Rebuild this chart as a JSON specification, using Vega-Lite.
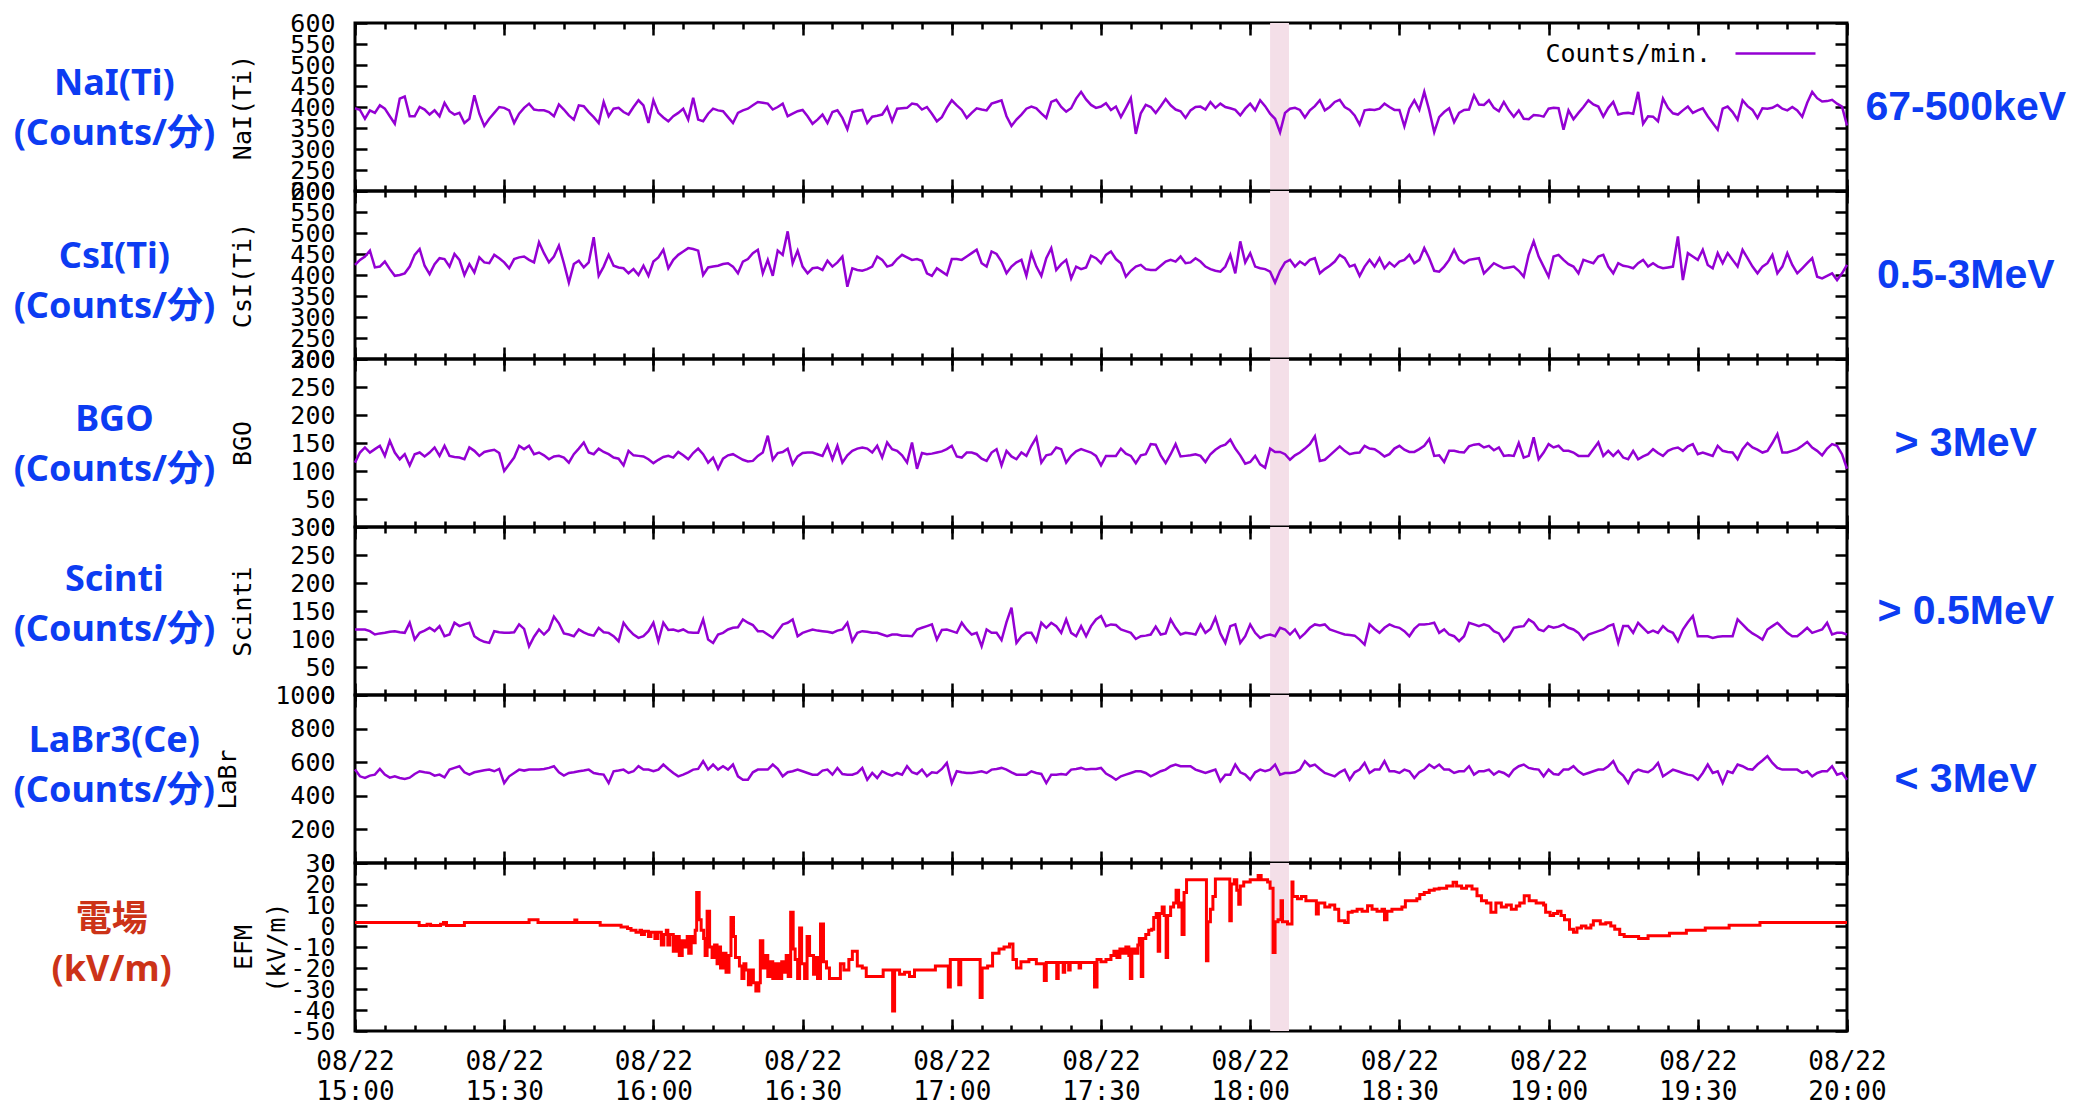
{
  "$schema": "https://vega.github.io/schema/vega-lite/v6.json",
  "background": "white",
  "padding": {"left": 12, "top": 9, "right": 5, "bottom": 2},
  "config": {
    "view": {"stroke": "black", "strokeWidth": 3},
    "axis": {"domain": false, "grid": false, "labelFont": "DejaVu Sans Mono", "labelFontSize": 25, "labelColor": "black", "titleFont": "DejaVu Sans Mono", "titleFontSize": 25, "titleFontWeight": "normal", "titleColor": "black", "tickColor": "black", "tickWidth": 2.5, "labelOverlap": false, "labelFlush": false, "labelBound": false},
    "title": {"orient": "left", "angle": 0, "align": "center", "baseline": "middle", "anchor": "middle", "frame": "group", "font": "Noto Sans, Noto Sans CJK JP", "fontSize": 36, "fontWeight": "bold", "color": "#0c3cf2", "lineHeight": 50, "dy": -40}
  },
  "datasets": {
    "band": [{"start": 184.0, "end": 187.8}],
    "counts": [
{"min":0,"nai":397,"csi":424,"bgo":115,"sci":117,"lab":556},
{"min":1,"nai":393,"csi":436,"bgo":133,"sci":117,"lab":516},
{"min":2,"nai":372,"csi":444,"bgo":142,"sci":117,"lab":506},
{"min":3,"nai":392,"csi":458,"bgo":133,"sci":114,"lab":520},
{"min":4,"nai":386,"csi":418,"bgo":139,"sci":108,"lab":526},
{"min":5,"nai":404,"csi":420,"bgo":145,"sci":110,"lab":560},
{"min":6,"nai":396,"csi":432,"bgo":127,"sci":111,"lab":526},
{"min":7,"nai":378,"csi":414,"bgo":154,"sci":113,"lab":508},
{"min":8,"nai":360,"csi":398,"bgo":133,"sci":114,"lab":516},
{"min":9,"nai":420,"csi":400,"bgo":121,"sci":112,"lab":506},
{"min":10,"nai":425,"csi":404,"bgo":130,"sci":111,"lab":500},
{"min":11,"nai":378,"csi":420,"bgo":110,"sci":129,"lab":508},
{"min":12,"nai":378,"csi":448,"bgo":130,"sci":99,"lab":530},
{"min":13,"nai":400,"csi":462,"bgo":133,"sci":111,"lab":546},
{"min":14,"nai":394,"csi":422,"bgo":126,"sci":115,"lab":540},
{"min":15,"nai":382,"csi":402,"bgo":133,"sci":120,"lab":536},
{"min":16,"nai":392,"csi":426,"bgo":142,"sci":114,"lab":520},
{"min":17,"nai":378,"csi":440,"bgo":127,"sci":123,"lab":526},
{"min":18,"nai":410,"csi":438,"bgo":145,"sci":105,"lab":510},
{"min":19,"nai":390,"csi":420,"bgo":127,"sci":108,"lab":556},
{"min":20,"nai":382,"csi":450,"bgo":125,"sci":129,"lab":566},
{"min":21,"nai":386,"csi":436,"bgo":124,"sci":123,"lab":576},
{"min":22,"nai":362,"csi":400,"bgo":121,"sci":126,"lab":540},
{"min":23,"nai":372,"csi":426,"bgo":142,"sci":129,"lab":526},
{"min":24,"nai":428,"csi":406,"bgo":136,"sci":105,"lab":540},
{"min":25,"nai":384,"csi":442,"bgo":127,"sci":99,"lab":546},
{"min":26,"nai":355,"csi":430,"bgo":134,"sci":95,"lab":552},
{"min":27,"nai":372,"csi":428,"bgo":136,"sci":93,"lab":556},
{"min":28,"nai":386,"csi":448,"bgo":138,"sci":114,"lab":546},
{"min":29,"nai":400,"csi":440,"bgo":132,"sci":112,"lab":560},
{"min":30,"nai":398,"csi":430,"bgo":100,"sci":111,"lab":476},
{"min":31,"nai":392,"csi":416,"bgo":112,"sci":111,"lab":516},
{"min":32,"nai":362,"csi":438,"bgo":124,"sci":112,"lab":536},
{"min":33,"nai":384,"csi":442,"bgo":145,"sci":126,"lab":556},
{"min":34,"nai":398,"csi":444,"bgo":139,"sci":118,"lab":550},
{"min":35,"nai":408,"csi":436,"bgo":145,"sci":87,"lab":556},
{"min":36,"nai":394,"csi":430,"bgo":130,"sci":104,"lab":556},
{"min":37,"nai":392,"csi":478,"bgo":133,"sci":117,"lab":556},
{"min":38,"nai":392,"csi":452,"bgo":128,"sci":108,"lab":560},
{"min":39,"nai":388,"csi":430,"bgo":121,"sci":117,"lab":566},
{"min":40,"nai":378,"csi":444,"bgo":126,"sci":140,"lab":576},
{"min":41,"nai":406,"csi":470,"bgo":127,"sci":128,"lab":540},
{"min":42,"nai":394,"csi":428,"bgo":124,"sci":110,"lab":520},
{"min":43,"nai":380,"csi":382,"bgo":115,"sci":108,"lab":536},
{"min":44,"nai":370,"csi":426,"bgo":130,"sci":105,"lab":540},
{"min":45,"nai":404,"csi":434,"bgo":140,"sci":117,"lab":546},
{"min":46,"nai":402,"csi":418,"bgo":151,"sci":112,"lab":550},
{"min":47,"nai":388,"csi":430,"bgo":133,"sci":108,"lab":556},
{"min":48,"nai":376,"csi":490,"bgo":130,"sci":106,"lab":536},
{"min":49,"nai":362,"csi":398,"bgo":140,"sci":120,"lab":530},
{"min":50,"nai":412,"csi":420,"bgo":134,"sci":112,"lab":526},
{"min":51,"nai":378,"csi":448,"bgo":130,"sci":111,"lab":476},
{"min":52,"nai":396,"csi":422,"bgo":124,"sci":105,"lab":546},
{"min":53,"nai":398,"csi":418,"bgo":122,"sci":96,"lab":550},
{"min":54,"nai":388,"csi":416,"bgo":110,"sci":129,"lab":556},
{"min":55,"nai":382,"csi":404,"bgo":136,"sci":117,"lab":536},
{"min":56,"nai":400,"csi":414,"bgo":128,"sci":108,"lab":546},
{"min":57,"nai":416,"csi":400,"bgo":127,"sci":102,"lab":576},
{"min":58,"nai":404,"csi":422,"bgo":126,"sci":105,"lab":556},
{"min":59,"nai":362,"csi":398,"bgo":121,"sci":114,"lab":556},
{"min":60,"nai":416,"csi":432,"bgo":114,"sci":129,"lab":546},
{"min":61,"nai":386,"csi":442,"bgo":120,"sci":96,"lab":556},
{"min":62,"nai":375,"csi":460,"bgo":125,"sci":129,"lab":586},
{"min":63,"nai":366,"csi":416,"bgo":127,"sci":116,"lab":560},
{"min":64,"nai":378,"csi":436,"bgo":124,"sci":117,"lab":536},
{"min":65,"nai":386,"csi":448,"bgo":134,"sci":114,"lab":516},
{"min":66,"nai":396,"csi":456,"bgo":128,"sci":117,"lab":526},
{"min":67,"nai":370,"csi":464,"bgo":121,"sci":112,"lab":540},
{"min":68,"nai":422,"csi":462,"bgo":132,"sci":111,"lab":556},
{"min":69,"nai":370,"csi":458,"bgo":140,"sci":111,"lab":560},
{"min":70,"nai":366,"csi":400,"bgo":130,"sci":135,"lab":606},
{"min":71,"nai":384,"csi":418,"bgo":115,"sci":99,"lab":556},
{"min":72,"nai":396,"csi":420,"bgo":124,"sci":93,"lab":586},
{"min":73,"nai":392,"csi":422,"bgo":104,"sci":108,"lab":556},
{"min":74,"nai":390,"csi":426,"bgo":122,"sci":111,"lab":576},
{"min":75,"nai":376,"csi":428,"bgo":128,"sci":117,"lab":556},
{"min":76,"nai":362,"csi":420,"bgo":130,"sci":120,"lab":586},
{"min":77,"nai":386,"csi":404,"bgo":125,"sci":121,"lab":516},
{"min":78,"nai":392,"csi":432,"bgo":120,"sci":135,"lab":496},
{"min":79,"nai":396,"csi":438,"bgo":117,"sci":129,"lab":496},
{"min":80,"nai":404,"csi":452,"bgo":118,"sci":125,"lab":540},
{"min":81,"nai":412,"csi":460,"bgo":127,"sci":114,"lab":556},
{"min":82,"nai":410,"csi":404,"bgo":133,"sci":114,"lab":556},
{"min":83,"nai":408,"csi":436,"bgo":163,"sci":108,"lab":556},
{"min":84,"nai":394,"csi":398,"bgo":120,"sci":102,"lab":586},
{"min":85,"nai":400,"csi":458,"bgo":132,"sci":114,"lab":560},
{"min":86,"nai":408,"csi":448,"bgo":134,"sci":126,"lab":516},
{"min":87,"nai":378,"csi":504,"bgo":140,"sci":129,"lab":540},
{"min":88,"nai":384,"csi":428,"bgo":112,"sci":135,"lab":546},
{"min":89,"nai":390,"csi":458,"bgo":126,"sci":105,"lab":556},
{"min":90,"nai":393,"csi":420,"bgo":132,"sci":111,"lab":546},
{"min":91,"nai":378,"csi":404,"bgo":133,"sci":114,"lab":536},
{"min":92,"nai":360,"csi":416,"bgo":133,"sci":117,"lab":526},
{"min":93,"nai":370,"csi":418,"bgo":130,"sci":115,"lab":526},
{"min":94,"nai":382,"csi":412,"bgo":127,"sci":114,"lab":550},
{"min":95,"nai":362,"csi":434,"bgo":146,"sci":113,"lab":556},
{"min":96,"nai":388,"csi":420,"bgo":121,"sci":111,"lab":526},
{"min":97,"nai":392,"csi":430,"bgo":145,"sci":115,"lab":566},
{"min":98,"nai":374,"csi":444,"bgo":115,"sci":117,"lab":530},
{"min":99,"nai":347,"csi":372,"bgo":128,"sci":129,"lab":526},
{"min":100,"nai":388,"csi":416,"bgo":136,"sci":96,"lab":526},
{"min":101,"nai":391,"csi":412,"bgo":140,"sci":111,"lab":536},
{"min":102,"nai":393,"csi":410,"bgo":142,"sci":114,"lab":566},
{"min":103,"nai":362,"csi":414,"bgo":140,"sci":113,"lab":496},
{"min":104,"nai":377,"csi":420,"bgo":133,"sci":111,"lab":536},
{"min":105,"nai":379,"csi":444,"bgo":145,"sci":111,"lab":506},
{"min":106,"nai":382,"csi":436,"bgo":124,"sci":108,"lab":546},
{"min":107,"nai":400,"csi":420,"bgo":151,"sci":105,"lab":530},
{"min":108,"nai":366,"csi":424,"bgo":139,"sci":108,"lab":520},
{"min":109,"nai":396,"csi":438,"bgo":136,"sci":108,"lab":536},
{"min":110,"nai":397,"csi":448,"bgo":128,"sci":106,"lab":526},
{"min":111,"nai":398,"csi":442,"bgo":115,"sci":106,"lab":576},
{"min":112,"nai":408,"csi":436,"bgo":151,"sci":105,"lab":540},
{"min":113,"nai":406,"csi":438,"bgo":104,"sci":117,"lab":530},
{"min":114,"nai":394,"csi":434,"bgo":132,"sci":120,"lab":556},
{"min":115,"nai":400,"csi":404,"bgo":130,"sci":123,"lab":516},
{"min":116,"nai":384,"csi":398,"bgo":131,"sci":126,"lab":540},
{"min":117,"nai":366,"csi":416,"bgo":133,"sci":99,"lab":536},
{"min":118,"nai":376,"csi":408,"bgo":135,"sci":116,"lab":560},
{"min":119,"nai":398,"csi":400,"bgo":139,"sci":117,"lab":596},
{"min":120,"nai":416,"csi":438,"bgo":145,"sci":114,"lab":476},
{"min":121,"nai":404,"csi":438,"bgo":126,"sci":111,"lab":546},
{"min":122,"nai":393,"csi":436,"bgo":124,"sci":129,"lab":540},
{"min":123,"nai":374,"csi":444,"bgo":133,"sci":117,"lab":536},
{"min":124,"nai":386,"csi":452,"bgo":133,"sci":108,"lab":536},
{"min":125,"nai":397,"csi":460,"bgo":130,"sci":111,"lab":540},
{"min":126,"nai":394,"csi":428,"bgo":122,"sci":87,"lab":546},
{"min":127,"nai":392,"csi":420,"bgo":118,"sci":117,"lab":536},
{"min":128,"nai":408,"csi":456,"bgo":133,"sci":111,"lab":556},
{"min":129,"nai":412,"csi":450,"bgo":139,"sci":111,"lab":560},
{"min":130,"nai":416,"csi":432,"bgo":110,"sci":98,"lab":566},
{"min":131,"nai":378,"csi":404,"bgo":136,"sci":130,"lab":556},
{"min":132,"nai":355,"csi":420,"bgo":126,"sci":156,"lab":540},
{"min":133,"nai":370,"csi":430,"bgo":121,"sci":93,"lab":526},
{"min":134,"nai":382,"csi":436,"bgo":133,"sci":105,"lab":526},
{"min":135,"nai":396,"csi":398,"bgo":127,"sci":111,"lab":526},
{"min":136,"nai":401,"csi":452,"bgo":145,"sci":111,"lab":546},
{"min":137,"nai":397,"csi":420,"bgo":160,"sci":96,"lab":536},
{"min":138,"nai":385,"csi":398,"bgo":115,"sci":129,"lab":530},
{"min":139,"nai":374,"csi":440,"bgo":128,"sci":120,"lab":476},
{"min":140,"nai":412,"csi":464,"bgo":130,"sci":129,"lab":526},
{"min":141,"nai":417,"csi":412,"bgo":142,"sci":123,"lab":526},
{"min":142,"nai":400,"csi":426,"bgo":139,"sci":111,"lab":530},
{"min":143,"nai":389,"csi":436,"bgo":115,"sci":135,"lab":526},
{"min":144,"nai":397,"csi":392,"bgo":127,"sci":111,"lab":556},
{"min":145,"nai":420,"csi":420,"bgo":135,"sci":105,"lab":560},
{"min":146,"nai":436,"csi":414,"bgo":139,"sci":123,"lab":566},
{"min":147,"nai":418,"csi":418,"bgo":136,"sci":105,"lab":556},
{"min":148,"nai":405,"csi":446,"bgo":133,"sci":123,"lab":560},
{"min":149,"nai":398,"csi":440,"bgo":127,"sci":135,"lab":560},
{"min":150,"nai":401,"csi":428,"bgo":110,"sci":141,"lab":566},
{"min":151,"nai":409,"csi":448,"bgo":127,"sci":123,"lab":532},
{"min":152,"nai":393,"csi":456,"bgo":127,"sci":126,"lab":516},
{"min":153,"nai":401,"csi":438,"bgo":127,"sci":125,"lab":496},
{"min":154,"nai":376,"csi":428,"bgo":140,"sci":117,"lab":516},
{"min":155,"nai":398,"csi":396,"bgo":131,"sci":114,"lab":526},
{"min":156,"nai":421,"csi":410,"bgo":127,"sci":111,"lab":536},
{"min":157,"nai":336,"csi":420,"bgo":114,"sci":100,"lab":546},
{"min":158,"nai":385,"csi":424,"bgo":128,"sci":105,"lab":546},
{"min":159,"nai":405,"csi":414,"bgo":130,"sci":106,"lab":536},
{"min":160,"nai":400,"csi":412,"bgo":148,"sci":108,"lab":516},
{"min":161,"nai":386,"csi":412,"bgo":147,"sci":122,"lab":530},
{"min":162,"nai":402,"csi":422,"bgo":128,"sci":108,"lab":546},
{"min":163,"nai":419,"csi":432,"bgo":114,"sci":110,"lab":556},
{"min":164,"nai":404,"csi":436,"bgo":130,"sci":135,"lab":576},
{"min":165,"nai":394,"csi":432,"bgo":148,"sci":120,"lab":586},
{"min":166,"nai":390,"csi":444,"bgo":126,"sci":108,"lab":576},
{"min":167,"nai":374,"csi":428,"bgo":127,"sci":111,"lab":576},
{"min":168,"nai":392,"csi":430,"bgo":128,"sci":110,"lab":576},
{"min":169,"nai":400,"csi":440,"bgo":130,"sci":108,"lab":556},
{"min":170,"nai":401,"csi":432,"bgo":127,"sci":126,"lab":546},
{"min":171,"nai":394,"csi":420,"bgo":116,"sci":111,"lab":536},
{"min":172,"nai":412,"csi":414,"bgo":130,"sci":118,"lab":546},
{"min":173,"nai":398,"csi":410,"bgo":138,"sci":138,"lab":556},
{"min":174,"nai":408,"csi":408,"bgo":144,"sci":110,"lab":486},
{"min":175,"nai":400,"csi":420,"bgo":147,"sci":93,"lab":526},
{"min":176,"nai":397,"csi":448,"bgo":156,"sci":123,"lab":526},
{"min":177,"nai":393,"csi":404,"bgo":140,"sci":126,"lab":586},
{"min":178,"nai":380,"csi":480,"bgo":128,"sci":93,"lab":540},
{"min":179,"nai":396,"csi":430,"bgo":113,"sci":105,"lab":526},
{"min":180,"nai":408,"csi":452,"bgo":116,"sci":126,"lab":496},
{"min":181,"nai":392,"csi":420,"bgo":127,"sci":111,"lab":540},
{"min":182,"nai":416,"csi":416,"bgo":112,"sci":102,"lab":556},
{"min":183,"nai":402,"csi":414,"bgo":106,"sci":106,"lab":546},
{"min":184,"nai":384,"csi":408,"bgo":140,"sci":108,"lab":556},
{"min":185,"nai":372,"csi":382,"bgo":134,"sci":105,"lab":586},
{"min":186,"nai":340,"csi":410,"bgo":134,"sci":120,"lab":526},
{"min":187,"nai":386,"csi":430,"bgo":130,"sci":117,"lab":536},
{"min":188,"nai":396,"csi":436,"bgo":120,"sci":108,"lab":536},
{"min":189,"nai":398,"csi":420,"bgo":128,"sci":117,"lab":540},
{"min":190,"nai":393,"csi":432,"bgo":133,"sci":102,"lab":556},
{"min":191,"nai":375,"csi":424,"bgo":140,"sci":110,"lab":606},
{"min":192,"nai":392,"csi":436,"bgo":148,"sci":120,"lab":576},
{"min":193,"nai":402,"csi":440,"bgo":162,"sci":126,"lab":586},
{"min":194,"nai":416,"csi":404,"bgo":118,"sci":124,"lab":560},
{"min":195,"nai":392,"csi":414,"bgo":120,"sci":126,"lab":536},
{"min":196,"nai":400,"csi":422,"bgo":128,"sci":117,"lab":526},
{"min":197,"nai":412,"csi":432,"bgo":136,"sci":114,"lab":516},
{"min":198,"nai":417,"csi":448,"bgo":144,"sci":111,"lab":540},
{"min":199,"nai":400,"csi":440,"bgo":136,"sci":108,"lab":556},
{"min":200,"nai":393,"csi":420,"bgo":130,"sci":107,"lab":496},
{"min":201,"nai":380,"csi":424,"bgo":132,"sci":106,"lab":540},
{"min":202,"nai":358,"csi":398,"bgo":133,"sci":99,"lab":556},
{"min":203,"nai":392,"csi":420,"bgo":145,"sci":90,"lab":596},
{"min":204,"nai":394,"csi":436,"bgo":140,"sci":126,"lab":536},
{"min":205,"nai":393,"csi":420,"bgo":139,"sci":118,"lab":556},
{"min":206,"nai":396,"csi":440,"bgo":133,"sci":111,"lab":556},
{"min":207,"nai":408,"csi":416,"bgo":126,"sci":120,"lab":606},
{"min":208,"nai":400,"csi":430,"bgo":130,"sci":126,"lab":546},
{"min":209,"nai":393,"csi":420,"bgo":140,"sci":122,"lab":546},
{"min":210,"nai":393,"csi":432,"bgo":145,"sci":120,"lab":536},
{"min":211,"nai":354,"csi":436,"bgo":138,"sci":114,"lab":556},
{"min":212,"nai":396,"csi":448,"bgo":134,"sci":105,"lab":546},
{"min":213,"nai":416,"csi":428,"bgo":134,"sci":118,"lab":506},
{"min":214,"nai":393,"csi":436,"bgo":139,"sci":126,"lab":540},
{"min":215,"nai":436,"csi":464,"bgo":145,"sci":126,"lab":556},
{"min":216,"nai":392,"csi":440,"bgo":157,"sci":127,"lab":586},
{"min":217,"nai":340,"csi":410,"bgo":127,"sci":129,"lab":566},
{"min":218,"nai":376,"csi":408,"bgo":128,"sci":111,"lab":586},
{"min":219,"nai":388,"csi":420,"bgo":116,"sci":117,"lab":556},
{"min":220,"nai":397,"csi":436,"bgo":136,"sci":108,"lab":556},
{"min":221,"nai":364,"csi":460,"bgo":136,"sci":105,"lab":536},
{"min":222,"nai":386,"csi":436,"bgo":134,"sci":96,"lab":546},
{"min":223,"nai":393,"csi":428,"bgo":133,"sci":105,"lab":546},
{"min":224,"nai":394,"csi":436,"bgo":144,"sci":129,"lab":576},
{"min":225,"nai":428,"csi":438,"bgo":147,"sci":126,"lab":526},
{"min":226,"nai":406,"csi":440,"bgo":148,"sci":123,"lab":546},
{"min":227,"nai":405,"csi":404,"bgo":142,"sci":126,"lab":546},
{"min":228,"nai":416,"csi":416,"bgo":145,"sci":123,"lab":556},
{"min":229,"nai":398,"csi":428,"bgo":137,"sci":114,"lab":526},
{"min":230,"nai":390,"csi":422,"bgo":142,"sci":110,"lab":546},
{"min":231,"nai":412,"csi":416,"bgo":127,"sci":96,"lab":536},
{"min":232,"nai":392,"csi":418,"bgo":128,"sci":105,"lab":516},
{"min":233,"nai":377,"csi":420,"bgo":127,"sci":120,"lab":556},
{"min":234,"nai":392,"csi":410,"bgo":150,"sci":122,"lab":576},
{"min":235,"nai":372,"csi":396,"bgo":124,"sci":123,"lab":586},
{"min":236,"nai":371,"csi":448,"bgo":127,"sci":135,"lab":566},
{"min":237,"nai":381,"csi":480,"bgo":160,"sci":129,"lab":560},
{"min":238,"nai":380,"csi":444,"bgo":121,"sci":117,"lab":556},
{"min":239,"nai":377,"csi":420,"bgo":133,"sci":114,"lab":516},
{"min":240,"nai":396,"csi":396,"bgo":148,"sci":123,"lab":556},
{"min":241,"nai":398,"csi":444,"bgo":142,"sci":120,"lab":530},
{"min":242,"nai":397,"csi":448,"bgo":145,"sci":122,"lab":526},
{"min":243,"nai":346,"csi":436,"bgo":136,"sci":126,"lab":556},
{"min":244,"nai":392,"csi":426,"bgo":136,"sci":120,"lab":556},
{"min":245,"nai":371,"csi":420,"bgo":133,"sci":117,"lab":576},
{"min":246,"nai":386,"csi":404,"bgo":127,"sci":111,"lab":546},
{"min":247,"nai":400,"csi":436,"bgo":127,"sci":99,"lab":526},
{"min":248,"nai":416,"csi":432,"bgo":127,"sci":108,"lab":536},
{"min":249,"nai":406,"csi":428,"bgo":139,"sci":111,"lab":546},
{"min":250,"nai":401,"csi":444,"bgo":151,"sci":114,"lab":556},
{"min":251,"nai":377,"csi":448,"bgo":127,"sci":117,"lab":556},
{"min":252,"nai":398,"csi":420,"bgo":136,"sci":123,"lab":576},
{"min":253,"nai":412,"csi":404,"bgo":127,"sci":126,"lab":606},
{"min":254,"nai":382,"csi":428,"bgo":136,"sci":93,"lab":546},
{"min":255,"nai":385,"csi":422,"bgo":124,"sci":123,"lab":520},
{"min":256,"nai":386,"csi":420,"bgo":121,"sci":123,"lab":476},
{"min":257,"nai":384,"csi":416,"bgo":136,"sci":111,"lab":536},
{"min":258,"nai":436,"csi":428,"bgo":121,"sci":129,"lab":556},
{"min":259,"nai":360,"csi":436,"bgo":126,"sci":120,"lab":546},
{"min":260,"nai":378,"csi":420,"bgo":130,"sci":111,"lab":540},
{"min":261,"nai":377,"csi":428,"bgo":139,"sci":115,"lab":560},
{"min":262,"nai":366,"csi":420,"bgo":132,"sci":111,"lab":596},
{"min":263,"nai":420,"csi":416,"bgo":127,"sci":123,"lab":516},
{"min":264,"nai":398,"csi":418,"bgo":136,"sci":115,"lab":536},
{"min":265,"nai":385,"csi":420,"bgo":140,"sci":111,"lab":556},
{"min":266,"nai":382,"csi":492,"bgo":142,"sci":96,"lab":546},
{"min":267,"nai":392,"csi":388,"bgo":136,"sci":117,"lab":536},
{"min":268,"nai":401,"csi":452,"bgo":144,"sci":130,"lab":526},
{"min":269,"nai":386,"csi":444,"bgo":148,"sci":141,"lab":520},
{"min":270,"nai":392,"csi":436,"bgo":130,"sci":105,"lab":496},
{"min":271,"nai":397,"csi":460,"bgo":133,"sci":105,"lab":536},
{"min":272,"nai":378,"csi":424,"bgo":130,"sci":105,"lab":586},
{"min":273,"nai":362,"csi":416,"bgo":127,"sci":102,"lab":536},
{"min":274,"nai":346,"csi":452,"bgo":145,"sci":104,"lab":546},
{"min":275,"nai":396,"csi":428,"bgo":136,"sci":105,"lab":476},
{"min":276,"nai":401,"csi":452,"bgo":134,"sci":105,"lab":546},
{"min":277,"nai":388,"csi":436,"bgo":133,"sci":105,"lab":536},
{"min":278,"nai":370,"csi":420,"bgo":121,"sci":135,"lab":586},
{"min":279,"nai":416,"csi":460,"bgo":139,"sci":126,"lab":576},
{"min":280,"nai":402,"csi":440,"bgo":150,"sci":117,"lab":560},
{"min":281,"nai":393,"csi":420,"bgo":142,"sci":110,"lab":556},
{"min":282,"nai":374,"csi":404,"bgo":138,"sci":105,"lab":586},
{"min":283,"nai":397,"csi":420,"bgo":133,"sci":99,"lab":610},
{"min":284,"nai":396,"csi":428,"bgo":136,"sci":117,"lab":636},
{"min":285,"nai":398,"csi":448,"bgo":150,"sci":123,"lab":596},
{"min":286,"nai":405,"csi":404,"bgo":166,"sci":129,"lab":566},
{"min":287,"nai":396,"csi":420,"bgo":133,"sci":120,"lab":556},
{"min":288,"nai":392,"csi":452,"bgo":133,"sci":111,"lab":556},
{"min":289,"nai":400,"csi":424,"bgo":136,"sci":105,"lab":556},
{"min":290,"nai":392,"csi":404,"bgo":139,"sci":105,"lab":556},
{"min":291,"nai":377,"csi":416,"bgo":145,"sci":112,"lab":536},
{"min":292,"nai":410,"csi":428,"bgo":152,"sci":120,"lab":546},
{"min":293,"nai":436,"csi":440,"bgo":142,"sci":111,"lab":516},
{"min":294,"nai":421,"csi":396,"bgo":136,"sci":114,"lab":536},
{"min":295,"nai":413,"csi":392,"bgo":128,"sci":117,"lab":546},
{"min":296,"nai":414,"csi":398,"bgo":140,"sci":129,"lab":546},
{"min":297,"nai":417,"csi":404,"bgo":148,"sci":108,"lab":576},
{"min":298,"nai":408,"csi":388,"bgo":145,"sci":111,"lab":526},
{"min":299,"nai":401,"csi":404,"bgo":130,"sci":111,"lab":536},
{"min":300,"nai":356,"csi":424,"bgo":104,"sci":108,"lab":496}
    ],
    "efm": [
{"min":0,"kvm":1.7},{"min":12.9,"kvm":0.2},{"min":14.5,"kvm":0.8},{"min":15.2,"kvm":0.2},{"min":17.2,"kvm":0.8},{"min":17.8,"kvm":1.7},{"min":18.4,"kvm":0.2},{"min":22,"kvm":1.7},{"min":35,"kvm":3},{"min":36.8,"kvm":1.7},{"min":44.2,"kvm":2.8},{"min":44.6,"kvm":1.7},{"min":49.3,"kvm":0.3},{"min":53.5,"kvm":-0.5},{"min":54.8,"kvm":-1.2},{"min":55.5,"kvm":-2},{"min":56.5,"kvm":-3},{"min":57.3,"kvm":-2},{"min":57.6,"kvm":-4},{"min":58.2,"kvm":-2.5},{"min":59,"kvm":-5},{"min":59.5,"kvm":-3},{"min":60.3,"kvm":-6},{"min":60.9,"kvm":-3},{"min":61.6,"kvm":-9},{"min":62.1,"kvm":-4},{"min":62.6,"kvm":-2},{"min":62.9,"kvm":-9},{"min":63.3,"kvm":-4},{"min":64,"kvm":-12},{"min":64.6,"kvm":-5},{"min":65.2,"kvm":-14},{"min":65.8,"kvm":-7},{"min":66.3,"kvm":-10},{"min":66.8,"kvm":-5},{"min":67.1,"kvm":-13},{"min":67.6,"kvm":-5},{"min":68,"kvm":-8},{"min":68.4,"kvm":-2},{"min":68.7,"kvm":16},{"min":69.2,"kvm":3},{"min":69.6,"kvm":-2},{"min":70.1,"kvm":-6},{"min":70.4,"kvm":-14},{"min":70.8,"kvm":7},{"min":71.3,"kvm":-10},{"min":71.8,"kvm":-15},{"min":72.3,"kvm":-9},{"min":72.8,"kvm":-18},{"min":73.1,"kvm":-10},{"min":73.5,"kvm":-20},{"min":74,"kvm":-13},{"min":74.6,"kvm":-22},{"min":75.2,"kvm":-14},{"min":75.6,"kvm":4},{"min":76.1,"kvm":-5},{"min":76.5,"kvm":-15},{"min":77.3,"kvm":-19},{"min":77.8,"kvm":-25},{"min":78.2,"kvm":-18},{"min":78.6,"kvm":-21},{"min":79.1,"kvm":-28},{"min":79.6,"kvm":-21},{"min":80.1,"kvm":-27},{"min":80.6,"kvm":-31},{"min":81.2,"kvm":-27},{"min":81.5,"kvm":-7},{"min":82,"kvm":-20},{"min":82.5,"kvm":-14},{"min":83,"kvm":-24},{"min":83.5,"kvm":-17},{"min":84,"kvm":-25},{"min":84.6,"kvm":-18},{"min":85.2,"kvm":-25},{"min":85.8,"kvm":-17},{"min":86.3,"kvm":-22},{"min":86.7,"kvm":-14},{"min":87.1,"kvm":-24},{"min":87.6,"kvm":6.5},{"min":88.1,"kvm":-11},{"min":88.5,"kvm":-16},{"min":89,"kvm":-25},{"min":89.4,"kvm":-1},{"min":89.8,"kvm":-18},{"min":90.4,"kvm":-25},{"min":90.9,"kvm":-5},{"min":91.4,"kvm":-14},{"min":92.2,"kvm":-23},{"min":92.7,"kvm":-15},{"min":93,"kvm":-25},{"min":93.6,"kvm":1},{"min":94.2,"kvm":-17},{"min":94.8,"kvm":-20},{"min":95.4,"kvm":-25},{"min":97.6,"kvm":-18},{"min":98.3,"kvm":-21},{"min":99.3,"kvm":-16},{"min":100,"kvm":-12},{"min":101,"kvm":-19},{"min":102,"kvm":-20},{"min":102.8,"kvm":-24},{"min":106.2,"kvm":-21},{"min":108.1,"kvm":-40.5},{"min":108.5,"kvm":-21},{"min":109.5,"kvm":-23},{"min":110.5,"kvm":-22},{"min":111.5,"kvm":-24},{"min":112.5,"kvm":-21},{"min":116.7,"kvm":-19},{"min":119.3,"kvm":-29},{"min":119.7,"kvm":-16},{"min":121.4,"kvm":-28},{"min":121.8,"kvm":-16},{"min":125.7,"kvm":-34},{"min":126.1,"kvm":-20},{"min":127.2,"kvm":-19},{"min":128.2,"kvm":-13},{"min":129.5,"kvm":-11},{"min":130.5,"kvm":-10},{"min":131.6,"kvm":-8.6},{"min":132.3,"kvm":-16},{"min":133,"kvm":-20},{"min":133.9,"kvm":-17},{"min":135.5,"kvm":-16},{"min":137,"kvm":-18},{"min":138.6,"kvm":-26},{"min":139,"kvm":-17.4},{"min":141.1,"kvm":-25},{"min":141.4,"kvm":-17.4},{"min":142.4,"kvm":-22},{"min":142.7,"kvm":-17.4},{"min":143.5,"kvm":-21},{"min":143.8,"kvm":-17.4},{"min":145.6,"kvm":-20},{"min":145.9,"kvm":-17.4},{"min":148.7,"kvm":-29},{"min":149.2,"kvm":-16},{"min":150,"kvm":-17},
{"min":151,"kvm":-16},{"min":152,"kvm":-14},{"min":152.6,"kvm":-12},{"min":153.2,"kvm":-15},{"min":153.8,"kvm":-11},{"min":154.4,"kvm":-13},{"min":155,"kvm":-10},{"min":155.6,"kvm":-14},{"min":155.9,"kvm":-25},{"min":156.2,"kvm":-11},{"min":156.8,"kvm":-13},{"min":157.4,"kvm":-9},{"min":157.7,"kvm":-6},{"min":158.1,"kvm":-24},{"min":158.4,"kvm":-6},{"min":159,"kvm":-4},{"min":159.6,"kvm":-2},{"min":160.2,"kvm":-1.5},{"min":160.6,"kvm":4},{"min":161.1,"kvm":6},{"min":161.5,"kvm":-12},{"min":161.8,"kvm":6},{"min":162.3,"kvm":9},{"min":162.7,"kvm":5},{"min":163.1,"kvm":-15},{"min":163.4,"kvm":5},{"min":164,"kvm":9},{"min":164.6,"kvm":11},{"min":165.1,"kvm":17},{"min":165.6,"kvm":9},{"min":166.1,"kvm":11},{"min":166.3,"kvm":-4},{"min":166.7,"kvm":16},{"min":167.2,"kvm":22},{"min":171.2,"kvm":-16.6},{"min":171.5,"kvm":2},{"min":172,"kvm":8},{"min":172.5,"kvm":14},{"min":173,"kvm":22.4},{"min":175.9,"kvm":2.5},{"min":176.2,"kvm":20},{"min":176.8,"kvm":22},{"min":177.3,"kvm":17},{"min":177.7,"kvm":10.4},{"min":178,"kvm":19},{"min":178.7,"kvm":21},{"min":180,"kvm":22},{"min":181.6,"kvm":24},{"min":182.2,"kvm":22},{"min":183.5,"kvm":21},{"min":184,"kvm":18},{"min":184.6,"kvm":-12.6},{"min":185,"kvm":2},{"min":185.6,"kvm":3},{"min":186.2,"kvm":12},{"min":186.5,"kvm":2},{"min":187.5,"kvm":1},{"min":188.4,"kvm":21},{"min":188.6,"kvm":14},{"min":189.5,"kvm":13},{"min":190.3,"kvm":14},{"min":191.2,"kvm":12},{"min":193.3,"kvm":5.7},{"min":193.7,"kvm":11},{"min":195,"kvm":9},{"min":196,"kvm":10},{"min":197,"kvm":8},{"min":197.8,"kvm":2.5},{"min":199,"kvm":1.7},{"min":199.7,"kvm":6.5},{"min":200.5,"kvm":7},{"min":201.5,"kvm":8},{"min":202.5,"kvm":7},{"min":203.6,"kvm":9.6},{"min":204.5,"kvm":8},{"min":205.5,"kvm":7},{"min":206.5,"kvm":8},{"min":207,"kvm":3},{"min":207.5,"kvm":7},{"min":208.5,"kvm":8},{"min":210.5,"kvm":9},{"min":211.2,"kvm":12},{"min":213.5,"kvm":13},{"min":214.1,"kvm":15},{"min":215,"kvm":16},{"min":216,"kvm":17},{"min":217,"kvm":17.6},{"min":218,"kvm":18},{"min":219.5,"kvm":19},{"min":220.8,"kvm":20.8},{"min":221.5,"kvm":19},{"min":222.5,"kvm":18},{"min":223.5,"kvm":19},{"min":224.6,"kvm":17.6},{"min":225.6,"kvm":14.4},{"min":226.5,"kvm":12},{"min":227.5,"kvm":11},{"min":228.4,"kvm":6.5},{"min":229.4,"kvm":11},{"min":230.5,"kvm":9},{"min":231.5,"kvm":10},{"min":232.5,"kvm":8},{"min":233.5,"kvm":9.5},{"min":234.2,"kvm":11},{"min":235.1,"kvm":14.4},{"min":236.1,"kvm":12},{"min":237.5,"kvm":11},{"min":239,"kvm":10},{"min":239.4,"kvm":6.5},{"min":240.3,"kvm":5},{"min":241,"kvm":6},{"min":241.8,"kvm":7},{"min":242.5,"kvm":5},{"min":243.2,"kvm":3},{"min":244.2,"kvm":-1.5},{"min":245,"kvm":-3},{"min":245.7,"kvm":-1},{"min":246.6,"kvm":0},{"min":247.5,"kvm":-1},{"min":248.5,"kvm":0.5},{"min":249,"kvm":2.5},{"min":250.4,"kvm":1},{"min":251.5,"kvm":1.5},{"min":252.5,"kvm":0},{"min":253.3,"kvm":-1.5},{"min":254.3,"kvm":-4},{"min":255.2,"kvm":-5},{"min":258.1,"kvm":-6},{"min":260,"kvm":-4.7},{"min":264.3,"kvm":-3.4},{"min":267.7,"kvm":-2},{"min":271.5,"kvm":-1},{"min":276.3,"kvm":0.4},{"min":282.5,"kvm":1.7},{"min":300,"kvm":1.7}
    ]
  },
  "spacing": 0,
  "bounds": "flush",
  "resolve": {"scale": {"color": "independent"}, "legend": {"color": "independent"}},
  "vconcat": [
    {
      "width": 1492, "height": 168,
      "title": {"text": ["NaI(Ti)", "(Counts/分)"], "offset": -85},
      "layer": [
        {"data": {"name": "band"}, "mark": {"type": "rect", "color": "#f4dfe8"},
         "encoding": {"x": {"field": "start", "type": "quantitative", "scale": {"domain": [0, 300], "nice": false, "zero": false}, "axis": {"orient": "top", "values": [0,30,60,90,120,150,180,210,240,270,300], "labels": false, "tickSize": 12, "offset": -12, "title": null}}, "x2": {"field": "end"}}},
        {"data": {"name": "counts"}, "mark": {"type": "line", "strokeWidth": 2.5},
         "encoding": {
           "x": {"field": "min", "type": "quantitative", "axis": {"orient": "bottom", "values": [0,30,60,90,120,150,180,210,240,270,300], "labels": false, "tickSize": 12, "offset": -12, "title": null}},
           "y": {"field": "nai", "type": "quantitative", "scale": {"domain": [200, 600], "nice": false, "zero": false}, "axis": {"orient": "left", "values": [200,250,300,350,400,450,500,550,600], "tickSize": 12, "offset": -12, "labelPadding": 20, "labelExpr": "'' + datum.value", "title": "NaI(Ti)", "titlePadding": 34}},
           "color": {"datum": "Counts/min.", "type": "nominal", "scale": {"range": ["#9400d3"]}, "legend": {"title": null, "orient": "none", "legendX": 1379, "legendY": -11, "symbolType": "stroke", "symbolSize": 6400, "symbolStrokeWidth": 2.5, "labelFont": "DejaVu Sans Mono", "labelFontSize": 25, "labelColor": "black", "labelAlign": "right", "labelOffset": -106, "labelLimit": 400, "padding": 0}}
         }},
        {"data": {"name": "counts"}, "mark": {"type": "line", "opacity": 0},
         "encoding": {
           "x": {"field": "min", "type": "quantitative", "axis": {"orient": "bottom", "values": [0,6,12,18,24,30,36,42,48,54,60,66,72,78,84,90,96,102,108,114,120,126,132,138,144,150,156,162,168,174,180,186,192,198,204,210,216,222,228,234,240,246,252,258,264,270,276,282,288,294,300], "labels": false, "tickSize": 6, "offset": -6, "title": null}},
           "y": {"field": "nai", "type": "quantitative", "axis": {"orient": "right", "values": [200,250,300,350,400,450,500,550,600], "labels": false, "tickSize": 12, "offset": -12, "title": "67-500keV", "titleAngle": 0, "titleAlign": "center", "titleBaseline": "middle", "titlePadding": 117, "titleFont": "Liberation Sans", "titleFontSize": 41, "titleFontWeight": "bold", "titleColor": "#0c3cf2"}}
         }},
        {"data": {"name": "counts"}, "mark": {"type": "line", "opacity": 0},
         "encoding": {
           "x": {"field": "min", "type": "quantitative", "axis": {"orient": "top", "values": [0,6,12,18,24,30,36,42,48,54,60,66,72,78,84,90,96,102,108,114,120,126,132,138,144,150,156,162,168,174,180,186,192,198,204,210,216,222,228,234,240,246,252,258,264,270,276,282,288,294,300], "labels": false, "tickSize": 6, "offset": -6, "title": null}},
           "y": {"field": "nai", "type": "quantitative", "axis": null}
         }}
      ],
      "resolve": {"axis": {"x": "independent", "y": "independent"}}
    },
    {
      "width": 1492, "height": 168,
      "title": {"text": ["CsI(Ti)", "(Counts/分)"], "offset": -85, "dy": -35},
      "layer": [
        {"data": {"name": "band"}, "mark": {"type": "rect", "color": "#f4dfe8"},
         "encoding": {"x": {"field": "start", "type": "quantitative", "scale": {"domain": [0, 300], "nice": false, "zero": false}, "axis": {"orient": "top", "values": [0,30,60,90,120,150,180,210,240,270,300], "labels": false, "tickSize": 12, "offset": -12, "title": null}}, "x2": {"field": "end"}}},
        {"data": {"name": "counts"}, "mark": {"type": "line", "strokeWidth": 2.5, "color": "#9400d3"},
         "encoding": {
           "x": {"field": "min", "type": "quantitative", "axis": {"orient": "bottom", "values": [0,30,60,90,120,150,180,210,240,270,300], "labels": false, "tickSize": 12, "offset": -12, "title": null}},
           "y": {"field": "csi", "type": "quantitative", "scale": {"domain": [200, 600], "nice": false, "zero": false}, "axis": {"orient": "left", "values": [200,250,300,350,400,450,500,550,600], "tickSize": 12, "offset": -12, "labelPadding": 20, "labelExpr": "'' + datum.value", "title": "CsI(Ti)", "titlePadding": 34}}
         }},
        {"data": {"name": "counts"}, "mark": {"type": "line", "opacity": 0},
         "encoding": {
           "x": {"field": "min", "type": "quantitative", "axis": {"orient": "bottom", "values": [0,6,12,18,24,30,36,42,48,54,60,66,72,78,84,90,96,102,108,114,120,126,132,138,144,150,156,162,168,174,180,186,192,198,204,210,216,222,228,234,240,246,252,258,264,270,276,282,288,294,300], "labels": false, "tickSize": 6, "offset": -6, "title": null}},
           "y": {"field": "csi", "type": "quantitative", "axis": {"orient": "right", "values": [200,250,300,350,400,450,500,550,600], "labels": false, "tickSize": 12, "offset": -12, "title": "0.5-3MeV", "titleAngle": 0, "titleAlign": "center", "titleBaseline": "middle", "titlePadding": 117, "titleFont": "Liberation Sans", "titleFontSize": 41, "titleFontWeight": "bold", "titleColor": "#0c3cf2"}}
         }},
        {"data": {"name": "counts"}, "mark": {"type": "line", "opacity": 0},
         "encoding": {
           "x": {"field": "min", "type": "quantitative", "axis": {"orient": "top", "values": [0,6,12,18,24,30,36,42,48,54,60,66,72,78,84,90,96,102,108,114,120,126,132,138,144,150,156,162,168,174,180,186,192,198,204,210,216,222,228,234,240,246,252,258,264,270,276,282,288,294,300], "labels": false, "tickSize": 6, "offset": -6, "title": null}},
           "y": {"field": "csi", "type": "quantitative", "axis": null}
         }}
      ],
      "resolve": {"axis": {"x": "independent", "y": "independent"}}
    },
    {
      "width": 1492, "height": 168,
      "title": {"text": ["BGO", "(Counts/分)"], "offset": -85},
      "layer": [
        {"data": {"name": "band"}, "mark": {"type": "rect", "color": "#f4dfe8"},
         "encoding": {"x": {"field": "start", "type": "quantitative", "scale": {"domain": [0, 300], "nice": false, "zero": false}, "axis": {"orient": "top", "values": [0,30,60,90,120,150,180,210,240,270,300], "labels": false, "tickSize": 12, "offset": -12, "title": null}}, "x2": {"field": "end"}}},
        {"data": {"name": "counts"}, "mark": {"type": "line", "strokeWidth": 2.5, "color": "#9400d3"},
         "encoding": {
           "x": {"field": "min", "type": "quantitative", "axis": {"orient": "bottom", "values": [0,30,60,90,120,150,180,210,240,270,300], "labels": false, "tickSize": 12, "offset": -12, "title": null}},
           "y": {"field": "bgo", "type": "quantitative", "scale": {"domain": [0, 300], "nice": false, "zero": false}, "axis": {"orient": "left", "values": [0,50,100,150,200,250,300], "tickSize": 12, "offset": -12, "labelPadding": 20, "labelExpr": "'' + datum.value", "title": "BGO", "titlePadding": 34}}
         }},
        {"data": {"name": "counts"}, "mark": {"type": "line", "opacity": 0},
         "encoding": {
           "x": {"field": "min", "type": "quantitative", "axis": {"orient": "bottom", "values": [0,6,12,18,24,30,36,42,48,54,60,66,72,78,84,90,96,102,108,114,120,126,132,138,144,150,156,162,168,174,180,186,192,198,204,210,216,222,228,234,240,246,252,258,264,270,276,282,288,294,300], "labels": false, "tickSize": 6, "offset": -6, "title": null}},
           "y": {"field": "bgo", "type": "quantitative", "axis": {"orient": "right", "values": [0,50,100,150,200,250,300], "labels": false, "tickSize": 12, "offset": -12, "title": "> 3MeV", "titleAngle": 0, "titleAlign": "center", "titleBaseline": "middle", "titlePadding": 117, "titleFont": "Liberation Sans", "titleFontSize": 41, "titleFontWeight": "bold", "titleColor": "#0c3cf2"}}
         }},
        {"data": {"name": "counts"}, "mark": {"type": "line", "opacity": 0},
         "encoding": {
           "x": {"field": "min", "type": "quantitative", "axis": {"orient": "top", "values": [0,6,12,18,24,30,36,42,48,54,60,66,72,78,84,90,96,102,108,114,120,126,132,138,144,150,156,162,168,174,180,186,192,198,204,210,216,222,228,234,240,246,252,258,264,270,276,282,288,294,300], "labels": false, "tickSize": 6, "offset": -6, "title": null}},
           "y": {"field": "bgo", "type": "quantitative", "axis": null}
         }}
      ],
      "resolve": {"axis": {"x": "independent", "y": "independent"}}
    },
    {
      "width": 1492, "height": 168,
      "title": {"text": ["Scinti", "(Counts/分)"], "offset": -85, "dy": -48},
      "layer": [
        {"data": {"name": "band"}, "mark": {"type": "rect", "color": "#f4dfe8"},
         "encoding": {"x": {"field": "start", "type": "quantitative", "scale": {"domain": [0, 300], "nice": false, "zero": false}, "axis": {"orient": "top", "values": [0,30,60,90,120,150,180,210,240,270,300], "labels": false, "tickSize": 12, "offset": -12, "title": null}}, "x2": {"field": "end"}}},
        {"data": {"name": "counts"}, "mark": {"type": "line", "strokeWidth": 2.5, "color": "#9400d3"},
         "encoding": {
           "x": {"field": "min", "type": "quantitative", "axis": {"orient": "bottom", "values": [0,30,60,90,120,150,180,210,240,270,300], "labels": false, "tickSize": 12, "offset": -12, "title": null}},
           "y": {"field": "sci", "type": "quantitative", "scale": {"domain": [0, 300], "nice": false, "zero": false}, "axis": {"orient": "left", "values": [0,50,100,150,200,250,300], "tickSize": 12, "offset": -12, "labelPadding": 20, "labelExpr": "'' + datum.value", "title": "Scinti", "titlePadding": 34}}
         }},
        {"data": {"name": "counts"}, "mark": {"type": "line", "opacity": 0},
         "encoding": {
           "x": {"field": "min", "type": "quantitative", "axis": {"orient": "bottom", "values": [0,6,12,18,24,30,36,42,48,54,60,66,72,78,84,90,96,102,108,114,120,126,132,138,144,150,156,162,168,174,180,186,192,198,204,210,216,222,228,234,240,246,252,258,264,270,276,282,288,294,300], "labels": false, "tickSize": 6, "offset": -6, "title": null}},
           "y": {"field": "sci", "type": "quantitative", "axis": {"orient": "right", "values": [0,50,100,150,200,250,300], "labels": false, "tickSize": 12, "offset": -12, "title": "> 0.5MeV", "titleAngle": 0, "titleAlign": "center", "titleBaseline": "middle", "titlePadding": 117, "titleFont": "Liberation Sans", "titleFontSize": 41, "titleFontWeight": "bold", "titleColor": "#0c3cf2"}}
         }},
        {"data": {"name": "counts"}, "mark": {"type": "line", "opacity": 0},
         "encoding": {
           "x": {"field": "min", "type": "quantitative", "axis": {"orient": "top", "values": [0,6,12,18,24,30,36,42,48,54,60,66,72,78,84,90,96,102,108,114,120,126,132,138,144,150,156,162,168,174,180,186,192,198,204,210,216,222,228,234,240,246,252,258,264,270,276,282,288,294,300], "labels": false, "tickSize": 6, "offset": -6, "title": null}},
           "y": {"field": "sci", "type": "quantitative", "axis": null}
         }}
      ],
      "resolve": {"axis": {"x": "independent", "y": "independent"}}
    },
    {
      "width": 1492, "height": 168,
      "title": {"text": ["LaBr3(Ce)", "(Counts/分)"], "offset": -100, "dy": -55},
      "layer": [
        {"data": {"name": "band"}, "mark": {"type": "rect", "color": "#f4dfe8"},
         "encoding": {"x": {"field": "start", "type": "quantitative", "scale": {"domain": [0, 300], "nice": false, "zero": false}, "axis": {"orient": "top", "values": [0,30,60,90,120,150,180,210,240,270,300], "labels": false, "tickSize": 12, "offset": -12, "title": null}}, "x2": {"field": "end"}}},
        {"data": {"name": "counts"}, "mark": {"type": "line", "strokeWidth": 2.5, "color": "#9400d3"},
         "encoding": {
           "x": {"field": "min", "type": "quantitative", "axis": {"orient": "bottom", "values": [0,30,60,90,120,150,180,210,240,270,300], "labels": false, "tickSize": 12, "offset": -12, "title": null}},
           "y": {"field": "lab", "type": "quantitative", "scale": {"domain": [0, 1000], "nice": false, "zero": false}, "axis": {"orient": "left", "values": [0,200,400,600,800,1000], "tickSize": 12, "offset": -12, "labelPadding": 20, "labelExpr": "'' + datum.value", "title": "LaBr", "titlePadding": 34}}
         }},
        {"data": {"name": "counts"}, "mark": {"type": "line", "opacity": 0},
         "encoding": {
           "x": {"field": "min", "type": "quantitative", "axis": {"orient": "bottom", "values": [0,6,12,18,24,30,36,42,48,54,60,66,72,78,84,90,96,102,108,114,120,126,132,138,144,150,156,162,168,174,180,186,192,198,204,210,216,222,228,234,240,246,252,258,264,270,276,282,288,294,300], "labels": false, "tickSize": 6, "offset": -6, "title": null}},
           "y": {"field": "lab", "type": "quantitative", "axis": {"orient": "right", "values": [0,200,400,600,800,1000], "labels": false, "tickSize": 12, "offset": -12, "title": "< 3MeV", "titleAngle": 0, "titleAlign": "center", "titleBaseline": "middle", "titlePadding": 117, "titleFont": "Liberation Sans", "titleFontSize": 41, "titleFontWeight": "bold", "titleColor": "#0c3cf2"}}
         }},
        {"data": {"name": "counts"}, "mark": {"type": "line", "opacity": 0},
         "encoding": {
           "x": {"field": "min", "type": "quantitative", "axis": {"orient": "top", "values": [0,6,12,18,24,30,36,42,48,54,60,66,72,78,84,90,96,102,108,114,120,126,132,138,144,150,156,162,168,174,180,186,192,198,204,210,216,222,228,234,240,246,252,258,264,270,276,282,288,294,300], "labels": false, "tickSize": 6, "offset": -6, "title": null}},
           "y": {"field": "lab", "type": "quantitative", "axis": null}
         }}
      ],
      "resolve": {"axis": {"x": "independent", "y": "independent"}}
    },
    {
      "width": 1492, "height": 168,
      "title": {"text": ["電場", "(kV/m)"], "offset": 0, "color": "#cc3318", "dy": -44},
      "layer": [
        {"data": {"name": "band"}, "mark": {"type": "rect", "color": "#f4dfe8"},
         "encoding": {"x": {"field": "start", "type": "quantitative", "scale": {"domain": [0, 300], "nice": false, "zero": false}, "axis": {"orient": "top", "values": [0,30,60,90,120,150,180,210,240,270,300], "labels": false, "tickSize": 12, "offset": -12, "title": null}}, "x2": {"field": "end"}}},
        {"data": {"name": "efm"}, "mark": {"type": "line", "strokeWidth": 3, "color": "#ff0000", "interpolate": "step-after"},
         "encoding": {
           "x": {"field": "min", "type": "quantitative", "axis": {"orient": "bottom", "values": [0,30,60,90,120,150,180,210,240,270,300], "tickSize": 12, "offset": -12, "labelPadding": 17, "labelFontSize": 26, "labelLineHeight": 30, "labelBaseline": "top", "labelAlign": "center", "labelExpr": "['08/22', (15 + floor(datum.value / 60)) + ':' + (datum.value % 60 == 0 ? '00' : '30')]", "title": null}},
           "y": {"field": "kvm", "type": "quantitative", "scale": {"domain": [-50, 30], "nice": false, "zero": false}, "axis": {"orient": "left", "values": [-50,-40,-30,-20,-10,0,10,20,30], "tickSize": 12, "offset": -12, "labelPadding": 20, "labelExpr": "'' + datum.value", "title": ["EFM", "(kV/m)"], "titlePadding": 0, "titleLineHeight": 33}}
         }},
        {"data": {"name": "efm"}, "mark": {"type": "line", "opacity": 0},
         "encoding": {
           "x": {"field": "min", "type": "quantitative", "axis": {"orient": "bottom", "values": [0,6,12,18,24,30,36,42,48,54,60,66,72,78,84,90,96,102,108,114,120,126,132,138,144,150,156,162,168,174,180,186,192,198,204,210,216,222,228,234,240,246,252,258,264,270,276,282,288,294,300], "labels": false, "tickSize": 6, "offset": -6, "title": null}},
           "y": {"field": "kvm", "type": "quantitative", "axis": {"orient": "right", "values": [-50,-40,-30,-20,-10,0,10,20,30], "labels": false, "tickSize": 12, "offset": -12, "title": null}}
         }},
        {"data": {"name": "efm"}, "mark": {"type": "line", "opacity": 0},
         "encoding": {
           "x": {"field": "min", "type": "quantitative", "axis": {"orient": "top", "values": [0,6,12,18,24,30,36,42,48,54,60,66,72,78,84,90,96,102,108,114,120,126,132,138,144,150,156,162,168,174,180,186,192,198,204,210,216,222,228,234,240,246,252,258,264,270,276,282,288,294,300], "labels": false, "tickSize": 6, "offset": -6, "title": null}},
           "y": {"field": "kvm", "type": "quantitative", "axis": null}
         }}
      ],
      "resolve": {"axis": {"x": "independent", "y": "independent"}}
    }
  ]
}
